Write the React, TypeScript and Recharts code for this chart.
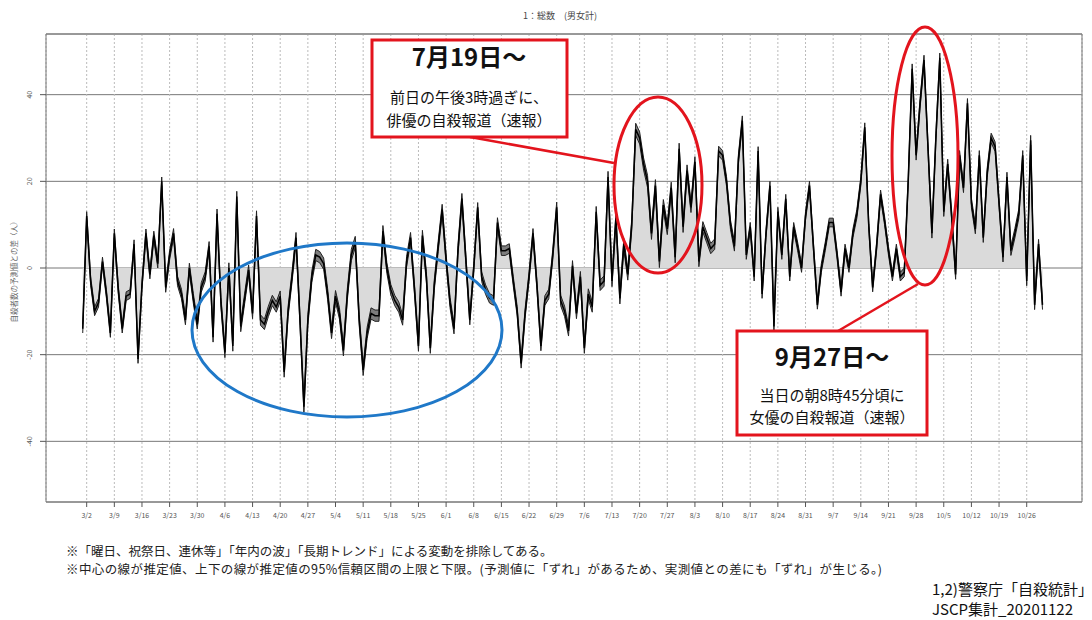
import React from "react";
import { ComposedChart, Area, Line, XAxis, YAxis, CartesianGrid, ReferenceArea } from "recharts";

// day 0 = 3/2, series starts on 3/1
const firstDay = -1;

// daily difference from the predicted value (persons), one row per week
const estimate = [
  -14, 12, -3, -10, -8, 1.5, -6,
  -15, 8, -5, -14, -6.5, -6, 5.5,
  -21, -4, 8, -1.5, 7.5, 1, 20,
  -4.5, 3, 8, -3, -6, -12, 0,
  -7, -13, -4.5, -2, 5, -16, 12.5,
  -8, -19.5, 0, -18, 16.5, -13.5, -7,
  -0.5, -10.5, 12, -12, -13, -10, -7.5,
  -9, -6.5, -24, -10, -2, 7, -12,
  -32, -12, -2, 3, 2.5, 1, -6,
  -15, -6.5, -10.5, -19, -6, 3, 6,
  -12, -23.5, -15, -10.5, -11, -11, 8.5,
  0, -5, -7.5, -9, -12, 1.5, 7,
  -5, -18, 7.5, -2, -18.5, -4, 5,
  13.5, 2, -8, -14, 4, 16, 2,
  -12, 0, 14, -2, -5, -7, -7.5,
  10.5, 4, 4, 4.5, -3, -10, -22,
  -10.5, -2, 8, -4, -18, -7.5, -6,
  3, 14, -7.5, -10, -14.5, 0.5, -10.5,
  -2, -18.5, -6, -9, 13, -4, -3,
  21, -3, 11.5, -7, 5.5, -1.5, 10,
  32, 30, 24, 20, 8, 19, 1.5,
  14.5, 9, 18.5, 2.5, 27.5, 9.5, 22.5,
  14, 24.5, 1.5, 9.5, 7, 4.5, 5.5,
  27, 26, 20, 10, 5, 25, 34,
  3, 9.5, -2, 27, -6, 8, 19,
  -13.5, 13, 3, 16, -2, 9.5, 5,
  0, 12, 19, 5, -8.5, 0, 5,
  10.5, 10.5, 3, -5.5, 4.5, 0, 8,
  12.5, 20, 32.5, 10, -4.5, 5, 17,
  11, 4, -2, 4.5, -2, -1, 20,
  46, 26, 38, 48, 28, 8, 30,
  48.5, 13, 24, 12, -1.5, 26, 18.5,
  38, 15, 9, 26, 7, 22, 30,
  28, 15, 2.5, 21, 4, 8, 12.5,
  26, -3, 29.5, -8.5, 5.5, -8.5,
];

// half width of the 95% interval, per week
const bandHalf = [
  1.0, 1.0, 1.0, 1.1, 1.1, 1.2, 1.2, 1.2, 1.3, 1.3, 1.3, 1.2,
  1.2, 1.2, 1.1, 1.1, 1.1, 1.2, 1.2, 1.3, 1.4, 1.3, 1.2, 1.1,
  1.0, 1.0, 1.0, 1.0, 1.0, 1.0, 1.1, 1.1, 1.1, 1.1, 1.1,
];

const weekLabels = [
  "3/2", "3/9", "3/16", "3/23", "3/30", "4/6", "4/13", "4/20", "4/27",
  "5/4", "5/11", "5/18", "5/25", "6/1", "6/8", "6/15", "6/22", "6/29",
  "7/6", "7/13", "7/20", "7/27", "8/3", "8/10", "8/17", "8/24", "8/31",
  "9/7", "9/14", "9/21", "9/28", "10/5", "10/12", "10/19", "10/26",
];

const yTicks = [-40, -20, 0, 20, 40];
const xDomain: [number, number] = [-10.3, 252];
const yDomain: [number, number] = [-54, 54];

const data = estimate.map((v, i) => {
  const hw = bandHalf[Math.floor(i / 7)];
  return { day: firstDay + i, est: v, lo: v - hw, hi: v + hw, band: [v - hw, v + hw] };
});

const xTicks = weekLabels.map((_, i) => i * 7);

const font = '"Noto Sans CJK JP", "Noto Sans", sans-serif';
const red = "#e3141d";
const blue = "#1f78c8";

function YTick(props: any) {
  const { x, y, payload } = props;
  const cx = x - 9;
  return (
    <text x={cx} y={y} transform={`rotate(-90 ${cx} ${y})`} textAnchor="middle"
      dominantBaseline="central" fontSize={7} fill="#555" fontFamily={font}>
      {payload.value}
    </text>
  );
}

export default function App() {
  return (
    <div style={{ position: "fixed", left: 0, top: 0, width: 1092, height: 620, overflow: "hidden", background: "#fff", fontFamily: font }}>
      <ComposedChart width={1092} height={620} data={data} margin={{ top: 34, right: 10, bottom: 88, left: 0 }}>
        <CartesianGrid vertical={false} stroke="#777" />
        <CartesianGrid horizontal={false} stroke="#bbb" strokeDasharray="2 2" />
        <XAxis type="number" dataKey="day" domain={xDomain} ticks={xTicks} allowDataOverflow
          tickFormatter={(v: number) => weekLabels[Math.round(v / 7)]}
          height={30} axisLine={false} tickLine={{ stroke: "#555" }} tickSize={5} tickMargin={6}
          tick={{ fontSize: 7, fill: "#555", fontFamily: font }} interval={0} />
        <YAxis type="number" domain={yDomain} ticks={yTicks} allowDataOverflow width={46}
          axisLine={false} tickLine={{ stroke: "#555" }} tickSize={6} tick={<YTick />} />
        <Area type="linear" dataKey="est" baseValue={0} fill="#dadada" fillOpacity={1} stroke="none"
          isAnimationActive={false} />
        <Area type="linear" dataKey="band" fill="#7d7d7d" fillOpacity={1} stroke="none"
          isAnimationActive={false} />
        <Line type="linear" dataKey="hi" stroke="#222" strokeWidth={1} dot={false} isAnimationActive={false} />
        <Line type="linear" dataKey="lo" stroke="#222" strokeWidth={1} dot={false} isAnimationActive={false} />
        <Line type="linear" dataKey="est" stroke="#000" strokeWidth={1.5} dot={false} isAnimationActive={false} />
        <ReferenceArea x1={xDomain[0]} x2={xDomain[1]} y1={yDomain[0]} y2={yDomain[1]}
          fill="none" stroke="#777" strokeWidth={1} ifOverflow="visible" />
      </ComposedChart>

      <svg width={1092} height={620} style={{ position: "absolute", left: 0, top: 0, pointerEvents: "none" }}>
        <text x={560} y={19} textAnchor="middle" fontSize={9} fill="#444" fontFamily={font}>1：総数　(男女計)</text>
        <text x={13} y={270} transform="rotate(-90 13 270)" textAnchor="middle" dominantBaseline="central"
          fontSize={7.5} fill="#666" fontFamily={font}>自殺者数の予測値との差（人）</text>

        {/* annotations */}
        <ellipse cx={347} cy={330} rx={155} ry={87} fill="none" stroke={blue} strokeWidth={3} />
        <ellipse cx={658} cy={185} rx={44} ry={88} fill="none" stroke={red} strokeWidth={3} />
        <ellipse cx={925} cy={156} rx={33} ry={129} fill="none" stroke={red} strokeWidth={3} />
        <line x1={470} y1={137} x2={614} y2={163} stroke={red} strokeWidth={2.5} />
        <line x1={918} y1={284} x2={838} y2={331} stroke={red} strokeWidth={2.5} />

        <rect x={372} y={40} width={195} height={97} fill="#fff" stroke={red} strokeWidth={3} />
        <text x={469} y={66} textAnchor="middle" fontSize={24} fontWeight="bold" fill="#111" fontFamily={font}>7月19日～</text>
        <text x={469} y={103} textAnchor="middle" fontSize={15} fill="#111" fontFamily={font}>前日の午後3時過ぎに、</text>
        <text x={469} y={126} textAnchor="middle" fontSize={15} fill="#111" fontFamily={font}>俳優の自殺報道（速報）</text>

        <rect x={737} y={331} width={190} height={104} fill="#fff" stroke={red} strokeWidth={3} />
        <text x={832} y={366} textAnchor="middle" fontSize={24} fontWeight="bold" fill="#111" fontFamily={font}>9月27日～</text>
        <text x={832} y={401} textAnchor="middle" fontSize={15} fill="#111" fontFamily={font}>当日の朝8時45分頃に</text>
        <text x={832} y={423} textAnchor="middle" fontSize={15} fill="#111" fontFamily={font}>女優の自殺報道（速報）</text>

        {/* notes */}
        <text x={66} y={556} fontSize={12.5} fill="#222" fontFamily={font}>※「曜日、祝祭日、連休等」「年内の波」「長期トレンド」による変動を排除してある。</text>
        <text x={66} y={574} fontSize={12.5} letterSpacing={0.4} fill="#222" fontFamily={font}>※中心の線が推定値、上下の線が推定値の95%信頼区間の上限と下限。(予測値に「ずれ」があるため、実測値との差にも「ずれ」が生じる。)</text>
        <text x={932} y={595} fontSize={15} fill="#111" fontFamily={font}>1,2)警察庁「自殺統計」より</text>
        <text x={932} y={615} fontSize={15} fill="#111" fontFamily={font}>JSCP集計_20201122</text>
      </svg>
    </div>
  );
}
